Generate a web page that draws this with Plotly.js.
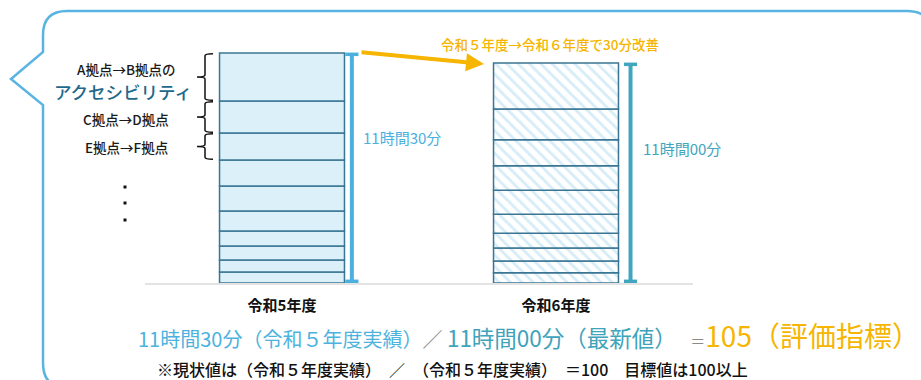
<!DOCTYPE html>
<html>
<head>
<meta charset="utf-8">
<script src="https://cdn.plot.ly/plotly-3.0.1.min.js"></script>
<style>
  html, body { margin: 0; padding: 0; background: white; }
  #graph { width: 921px; height: 380px; }
</style>
</head>
<body>
<div id="graph"></div>
<script>
// データ（分単位、上の区間から順）
const years = ['令和5年度', '令和6年度'];
const r5Minutes = [144, 96, 81, 78, 75, 60, 45, 42, 36, 33];
const r6Minutes = [138, 92, 78, 74, 72, 57, 44, 39, 35, 31];
const totalLabels = ['11時間30分', '11時間00分'];
const routeLabels = ['A拠点→B拠点の', 'C拠点→D拠点', 'E拠点→F拠点'];
const improveText = '令和５年度→令和６年度で30分改善';

const FONT = 'Noto Sans CJK JP, sans-serif';
const W = 921, H = 380, L = 145, R = 228, T = 30, B = 97;

// ピクセル → paper座標
function px(x) { return (x - L) / (W - L - R); }
function py(y) { return (H - B - y) / (H - T - B); }

// 下から積み上げる
function stackTrace(year, mins, style) {
    const up = mins.slice().reverse();
    const base = [];
    let acc = 0;
    up.forEach(v => { base.push(acc); acc += v; });
    return Object.assign({
        type: 'bar',
        x: up.map(() => year),
        y: up,
        base: base,
        width: 0.456,
        hoverinfo: 'skip',
        showlegend: false,
    }, style);
}

const totals = [r5Minutes, r6Minutes].map(a => a.reduce((s, v) => s + v, 0));

const traces = [
    stackTrace(years[0], r5Minutes, {
        marker: { color: '#dcf0f9', line: { color: '#3a7594', width: 1.5 } }
    }),
    stackTrace(years[1], r6Minutes, {
        marker: {
            color: '#ffffff',
            line: { color: '#3a7594', width: 1.5 },
            pattern: { shape: '\\', fgcolor: '#d6ecf7', bgcolor: '#ffffff', size: 8, solidity: 0.35, fillmode: 'replace' }
        }
    }),
];

const shapes = [];
const annotations = [];

// 吹き出し枠
const pts = (list) => list.map(p => px(p[0]).toFixed(4) + ',' + py(p[1]).toFixed(4));
const b = pts([[43,105],[43,363],[43,388],[68,388],[907,388],[932,388],[932,363],[932,36],[932,11],[907,11],[67,11],[43,11],[43,35],[43,52],[11,79]]);
shapes.push({
    type: 'path', xref: 'paper', yref: 'paper',
    path: `M ${b[0]} L ${b[1]} Q ${b[2]} ${b[3]} L ${b[4]} Q ${b[5]} ${b[6]} L ${b[7]} Q ${b[8]} ${b[9]} L ${b[10]} Q ${b[11]} ${b[12]} L ${b[13]} L ${b[14]} Z`,
    line: { color: '#5ab4e1', width: 2.5 },
});

// 合計の範囲線（I字）
const beamColors = ['#4ab1de', '#41a5bd'];
const beamOffset = [0.255, 0.272];
const labelPos = [[0.29, 137], [0.31, 148]];
totals.forEach((tot, i) => {
    const xc = i + beamOffset[i];
    const c = beamColors[i];
    shapes.push({ type: 'line', xref: 'x', yref: 'y', x0: xc, x1: xc, y0: 3, y1: tot - 3, line: { color: c, width: 4 } });
    shapes.push({ type: 'line', xref: 'x', yref: 'y', x0: xc - 0.024, x1: xc + 0.024, y0: tot - 4, y1: tot - 4, line: { color: c, width: 3.5 } });
    shapes.push({ type: 'line', xref: 'x', yref: 'y', x0: xc - 0.024, x1: xc + 0.024, y0: 5, y1: 5, line: { color: c, width: 3.5 } });
    annotations.push({
        xref: 'x', yref: 'paper', x: i + labelPos[i][0], y: py(labelPos[i][1]),
        xanchor: 'left', yanchor: 'middle', showarrow: false,
        text: totalLabels[i], font: { family: FONT, size: 15, color: c },
    });
});

// 区間ごとの波括弧
const xr = px(213), xm = px(205), xt = px(197);
let segTop = totals[0];
const d = 6;
routeLabels.forEach((lab, i) => {
    const yt = segTop - 2, yb = segTop - r5Minutes[i] + 2;
    const ymid = (yt + yb) / 2;
    shapes.push({
        type: 'path', xref: 'paper', yref: 'y',
        path: `M ${xr},${yt} Q ${xm},${yt} ${xm},${yt - d} L ${xm},${ymid + d} Q ${xm},${ymid} ${xt},${ymid} ` +
              `Q ${xm},${ymid} ${xm},${ymid - d} L ${xm},${yb + d} Q ${xm},${yb} ${xr},${yb}`,
        line: { color: '#111111', width: 1.5 },
    });
    segTop -= r5Minutes[i];
});

const routeY = [69, 119, 147];
routeLabels.forEach((lab, i) => {
    annotations.push({
        xref: 'paper', yref: 'paper', x: px(126), y: py(routeY[i]),
        xanchor: 'center', yanchor: 'middle', showarrow: false,
        text: lab, font: { family: FONT, size: 13.5, color: '#1a1a1a', weight: 500 },
    });
});
annotations.push({
    xref: 'paper', yref: 'paper', x: px(123), y: py(91),
    xanchor: 'center', yanchor: 'middle', showarrow: false,
    text: 'アクセシビリティ', font: { family: FONT, size: 17.5, color: '#22688a', weight: 500 },
});

// 縦の点々
[187, 203, 220].forEach(y => {
    shapes.push({
        type: 'rect', xref: 'paper', yref: 'paper',
        x0: px(123.5), x1: px(126.5), y0: py(y + 1.5), y1: py(y - 1.5),
        fillcolor: '#111111', line: { width: 0 },
    });
});

// 改善の矢印
annotations.push({
    xref: 'paper', yref: 'paper', x: px(484), y: py(64),
    ax: -124, ay: -12, axref: 'pixel', ayref: 'pixel',
    text: '', showarrow: true, arrowhead: 2, arrowsize: 0.9, arrowwidth: 4,
    arrowcolor: '#f6b500', standoff: 0,
});
annotations.push({
    xref: 'paper', yref: 'paper', x: px(550), y: py(44),
    xanchor: 'center', yanchor: 'middle', showarrow: false,
    text: improveText, font: { family: FONT, size: 13.5, color: '#f6b500', weight: 500 },
});

// 下の計算式
const nb = '\u00A0';
annotations.push({
    xref: 'paper', yref: 'paper', x: px(136), y: py(335),
    xanchor: 'left', yanchor: 'middle', showarrow: false,
    text: '<span style="color:#4db3de">11時間30分（令和５年度実績）</span>' +
          '<span style="color:#8a8a8a">／' + nb + '</span>' +
          '<span style="color:#3fa3bb;font-size:22.5px">11時間00分（最新値）</span>' +
          '<span style="color:#8a8a8a;font-size:15px">' + nb + nb + nb + nb + '＝</span>' +
          '<span style="color:#f6b500;font-size:28px">105（評価指標）</span>',
    font: { family: FONT, size: 20, color: '#4db3de' },
});
annotations.push({
    xref: 'paper', yref: 'paper', x: px(155), y: py(369),
    xanchor: 'left', yanchor: 'middle', showarrow: false,
    text: '※現状値は（令和５年度実績）　／　（令和５年度実績）　＝100　目標値は100以上',
    font: { family: FONT, size: 16, color: '#111111', weight: 500 },
});

const layout = {
    width: W, height: H,
    margin: { l: L, r: R, t: T, b: B },
    paper_bgcolor: '#ffffff',
    plot_bgcolor: '#ffffff',
    barmode: 'overlay',
    showlegend: false,
    xaxis: {
        type: 'category', range: [-0.5, 1.5],
        showline: true, linecolor: '#e3e3e3', linewidth: 2,
        showgrid: false, zeroline: false, ticks: '',
        ticklabelstandoff: 8,
        tickfont: { family: FONT, size: 15, color: '#111111', weight: 'bold' },
    },
    yaxis: { range: [0, (H - T - B) * 3], visible: false, fixedrange: true },
    shapes: shapes,
    annotations: annotations,
};

Plotly.newPlot('graph', traces, layout, { displayModeBar: false, staticPlot: true });
</script>
</body>
</html>
